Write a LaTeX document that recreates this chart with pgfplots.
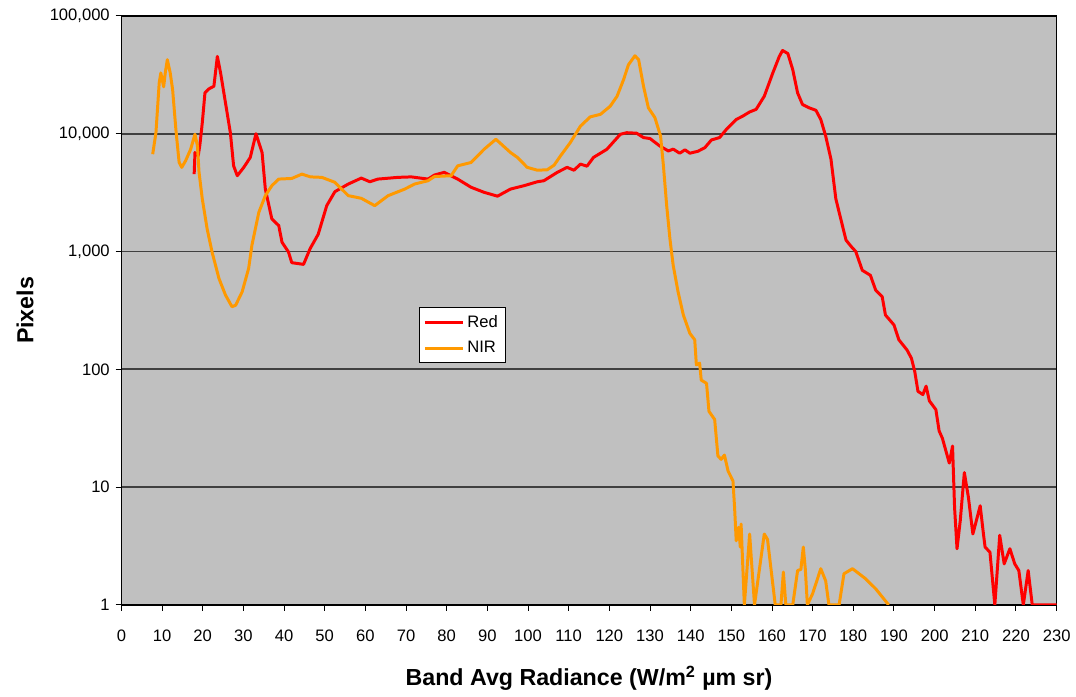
\documentclass[border=0pt]{standalone}
\usepackage{fontspec}
\setmainfont{Liberation Sans}
\usepackage{pgfplots}
\pgfplotsset{compat=1.18}
\definecolor{plotbg}{HTML}{C0C0C0}
\definecolor{nir}{HTML}{FF9900}
\definecolor{gridc}{HTML}{404040}

\begin{document}
\begin{tikzpicture}
\begin{axis}[
    scale only axis,
    width=564pt, height=355.2pt,
    ymode=log,
    xmin=0, xmax=230, ymin=1, ymax=100000,
    xtick={0,10,...,230},
    ytick={1,10,100,1000,10000,100000},
    yticklabels={1,10,100,{1,000},{10,000},{100,000}},
    yminorticks=false,
    log ticks with fixed point,
    tick pos=left,
    tick align=outside,
    major tick length=3.5pt,
    tick style={black, line width=0.6pt},
    axis line style={black, line width=0.8pt},
    axis background/.style={fill=plotbg},
    ymajorgrids=true,
    major grid style={gridc, line width=1.1pt},
    /pgf/number format/assume math mode=true,
    tick label style={font=\fontsize{10}{12}\selectfont},
    xticklabel style={yshift=-8pt},
    xlabel={\textbf{Band Avg Radiance (W/m\textsuperscript{2} µm sr)}},
    ylabel={\textbf{Pixels}},
    label style={font=\fontsize{14}{16}\selectfont},
    xlabel style={at={(axis description cs:0.5,-0.1245)}, anchor=center},
    ylabel style={at={(axis description cs:-0.103,0.5)}, anchor=center},
    legend style={at={(axis description cs:0.318,0.505)}, anchor=north west,
        draw=black, fill=white, font=\fontsize{10}{12}\selectfont,
        inner sep=2.5pt, row sep=3pt},
    legend cell align=left,
    legend image code/.code={\draw[#1] (0cm,0cm) -- (0.8cm,0cm);},
    every axis plot/.append style={line width=1.8pt, line join=round},
]
\addplot[red] coordinates {
(17.9,4540) (18.1,6920) (18.9,6500) (19.3,8000) (19.9,12400) (20.55,22200)
(21.5,24000) (22.75,25300) (23.6,45300) (24.4,32800) (25.6,18300) (26.8,10200)
(27.6,5340) (28.5,4400) (30.1,5180) (31.7,6290) (33.1,10000) (34.6,6920)
(35.4,3390) (37.0,1890) (38.7,1660) (39.5,1200) (41.1,990) (41.9,804)
(44.8,778) (46.4,1056) (48.4,1400) (50.5,2450) (52.5,3220) (55.8,3740)
(59.0,4200) (61.1,3910) (63.1,4120) (68.0,4260) (71.3,4300) (75.4,4120)
(77.0,4460) (79.4,4700) (82.7,4120) (86.0,3510) (89.2,3180) (92.5,2950)
(95.7,3390) (99.0,3620) (102.3,3910) (103.9,3990) (107.2,4700) (109.6,5180)
(111.3,4900) (112.9,5520) (114.5,5300) (116.1,6290) (119.4,7380) (122.7,9890)
(124.3,10200) (126.7,10100) (128.4,9270) (130.0,9100) (132.4,7870) (134.5,7140)
(135.7,7400) (137.3,6830) (138.6,7300) (139.8,6830) (141.8,7100) (143.5,7620)
(145.1,8850) (147.1,9270) (148.8,10900) (151.2,13200) (152.8,14100) (154.5,15300)
(156.1,16100) (158.1,20800) (160.2,32800) (161.8,45300) (162.6,50900) (163.9,47900)
(165.1,35000) (166.3,22200) (167.5,17700) (169.1,16600) (170.8,15800) (172.0,13200)
(173.2,9560) (174.5,6080) (175.7,2800) (176.9,1900) (178.2,1250) (179.5,1100)
(180.6,1000) (182.2,693) (184.2,628) (185.5,470) (187.1,413) (187.9,289)
(190.0,238) (191.2,178) (193.2,146) (194.3,124) (195.1,96) (195.9,65)
(197.1,61) (197.9,72) (198.7,54) (200.3,45.5) (201.1,30) (201.9,26)
(203.0,19) (203.6,16) (204.4,22.3) (204.9,6.7) (205.5,3.0) (206.3,5.2)
(207.3,13.3) (208.3,8.2) (209.4,4.0) (211.2,6.95) (212.0,4.0) (212.4,3.1)
(213.6,2.8) (214.8,1) (216.0,3.9) (217.1,2.23) (218.5,3.0) (219.7,2.23)
(220.7,1.96) (221.8,1) (223.0,1.96) (224.0,1) (228.3,1) (230,1)
};
\addlegendentry{Red}
\addplot[nir] coordinates {
(7.7,6700) (8.5,10200) (9.3,27000) (9.7,32800) (10.4,25000) (10.8,33000)
(11.3,42500) (12.0,33000) (12.6,23700) (13.4,10900) (14.2,5700) (14.85,5180)
(15.8,5900) (17.05,7400) (18.1,9900) (18.7,7900) (19.1,4700) (19.9,2790)
(21.1,1550) (22.3,990) (24.0,590) (25.6,427) (27.2,340) (28.1,350)
(29.7,455) (31.3,720) (32.1,1130) (33.8,2150) (35.4,2980) (37.0,3620)
(38.7,4120) (41.9,4170) (44.4,4540) (46.5,4300) (49.3,4260) (52.5,3870)
(55.8,2980) (59.0,2830) (62.3,2450) (65.6,2980) (69.7,3390) (72.1,3740)
(75.4,3990) (77.0,4330) (81.1,4400) (82.7,5340) (86.0,5700) (89.2,7380)
(92.1,8970) (95.7,6920) (97.4,6290) (99.8,5180) (102.3,4900) (104.7,4940)
(106.4,5400) (108.0,6490) (110.4,8410) (112.9,11600) (115.3,13900) (117.8,14600)
(120.2,17100) (121.9,20800) (123.5,28800) (124.7,38500) (126.3,45900) (127.2,42500)
(128.4,25300) (129.6,16600) (131.2,13700) (132.6,9560) (133.3,5340) (134.1,2450)
(134.9,1280) (135.7,764) (136.9,455) (138.2,289) (139.8,202) (141.0,178)
(141.4,109) (142.2,113) (142.6,81) (143.9,76) (144.5,44) (145.9,37.5)
(146.7,18.4) (147.5,17.2) (148.3,18.7) (149.2,13.7) (150.4,11.3) (150.8,6.7)
(151.2,3.5) (151.8,4.56) (152.2,3.1) (152.4,4.86) (153.2,1) (154.5,4.0)
(155.7,1) (156.9,2.0) (158.1,4.0) (158.9,3.6) (159.8,1.96) (160.8,1)
(162.2,1) (162.8,1.9) (163.4,1) (165.1,1) (166.3,1.96) (167.1,2.0)
(167.7,3.1) (168.2,2) (168.7,1) (170.0,1.25) (172.0,2.03) (173.2,1.6)
(174.0,1) (176.5,1) (177.7,1.84) (179.8,2.03) (183.0,1.67) (185.5,1.37)
(188.7,1)
};
\addlegendentry{NIR}
\end{axis}
\path ([xshift=-73.2pt,yshift=-54pt]current axis.south west)
    rectangle ([xshift=8.4pt,yshift=9.6pt]current axis.north east);
\end{tikzpicture}
\end{document}
